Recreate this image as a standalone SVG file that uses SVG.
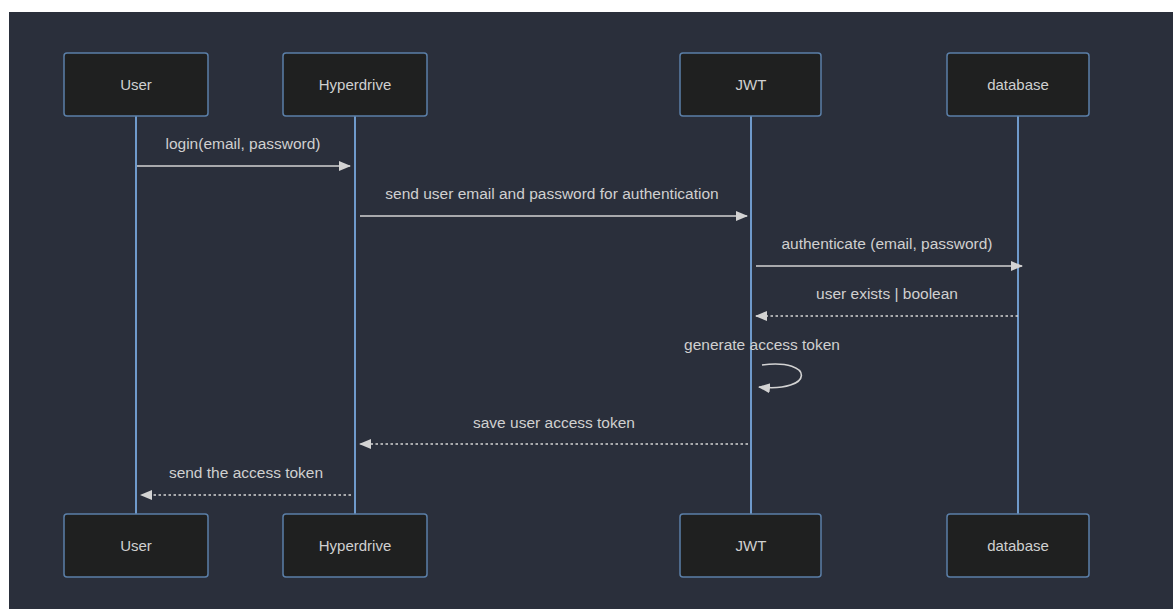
<svg xmlns="http://www.w3.org/2000/svg" width="1173" height="609" viewBox="0 0 1173 609">
  <style>
    .actor rect { fill: #1f2020; stroke: #5b7fa8; stroke-width: 1.5; }
    .actor text { fill: #d0d0d0; font-family: "Liberation Sans", Arial, sans-serif; font-size: 15px; text-anchor: middle; dominant-baseline: central; }
    .life { stroke: #6f9acb; stroke-width: 2; }
    .msg { stroke: #d3d3d3; stroke-width: 1.6; fill: none; }
    .dot { stroke-dasharray: 2.5 2.5; }
    .lbl { fill: #d0d0d0; font-family: "Liberation Sans", Arial, sans-serif; font-size: 15.5px; text-anchor: middle; }
  </style>
  <defs>
    <marker id="head" markerWidth="12" markerHeight="12" refX="11" refY="6" orient="auto" markerUnits="userSpaceOnUse">
      <path d="M0,1 L12,6 L0,11 Z" fill="#d3d3d3"/>
    </marker>
  </defs>

  <rect x="0" y="0" width="1173" height="609" fill="#ffffff"/>
  <rect x="9" y="12" width="1164" height="597" fill="#2a2f3b"/>

  <!-- lifelines -->
  <g id="lifelines">
    <line class="life" x1="136" y1="116" x2="136" y2="514"/>
    <line class="life" x1="355" y1="116" x2="355" y2="514"/>
    <line class="life" x1="751" y1="116" x2="751" y2="514"/>
    <line class="life" x1="1018" y1="116" x2="1018" y2="514"/>
  </g>

  <!-- participants -->
  <g id="user-top" class="actor"><rect x="64" y="53" width="144" height="63" rx="3"/><text x="136" y="84.5">User</text></g>
  <g id="hyperdrive-top" class="actor"><rect x="283" y="53" width="144" height="63" rx="3"/><text x="355" y="84.5">Hyperdrive</text></g>
  <g id="jwt-top" class="actor"><rect x="680" y="53" width="141" height="63" rx="3"/><text x="751" y="84.5">JWT</text></g>
  <g id="database-top" class="actor"><rect x="947" y="53" width="142" height="63" rx="3"/><text x="1018" y="84.5">database</text></g>

  <g id="user-bottom" class="actor"><rect x="64" y="514" width="144" height="63" rx="3"/><text x="136" y="545.5">User</text></g>
  <g id="hyperdrive-bottom" class="actor"><rect x="283" y="514" width="144" height="63" rx="3"/><text x="355" y="545.5">Hyperdrive</text></g>
  <g id="jwt-bottom" class="actor"><rect x="680" y="514" width="141" height="63" rx="3"/><text x="751" y="545.5">JWT</text></g>
  <g id="database-bottom" class="actor"><rect x="947" y="514" width="142" height="63" rx="3"/><text x="1018" y="545.5">database</text></g>

  <!-- messages -->
  <g id="connectors">
    <line class="msg" x1="137" y1="166" x2="350" y2="166" marker-end="url(#head)"/>
    <line class="msg" x1="360" y1="216" x2="747" y2="216" marker-end="url(#head)"/>
    <line class="msg" x1="756" y1="266" x2="1022" y2="266" marker-end="url(#head)"/>
    <line class="msg dot" x1="1018" y1="316" x2="756" y2="316" marker-end="url(#head)"/>
    <path class="msg" d="M762,365 C815,358 815,393 759,387" marker-end="url(#head)"/>
    <line class="msg dot" x1="748" y1="444" x2="360" y2="444" marker-end="url(#head)"/>
    <line class="msg dot" x1="351" y1="495" x2="141" y2="495" marker-end="url(#head)"/>
  </g>

  <g id="labels">
    <text class="lbl" x="243" y="149">login(email, password)</text>
    <text class="lbl" x="552" y="199">send user email and password for authentication</text>
    <text class="lbl" x="887" y="249">authenticate (email, password)</text>
    <text class="lbl" x="887" y="299">user exists | boolean</text>
    <text class="lbl" x="762" y="350">generate access token</text>
    <text class="lbl" x="554" y="428">save user access token</text>
    <text class="lbl" x="246" y="478">send the access token</text>
  </g>
</svg>
